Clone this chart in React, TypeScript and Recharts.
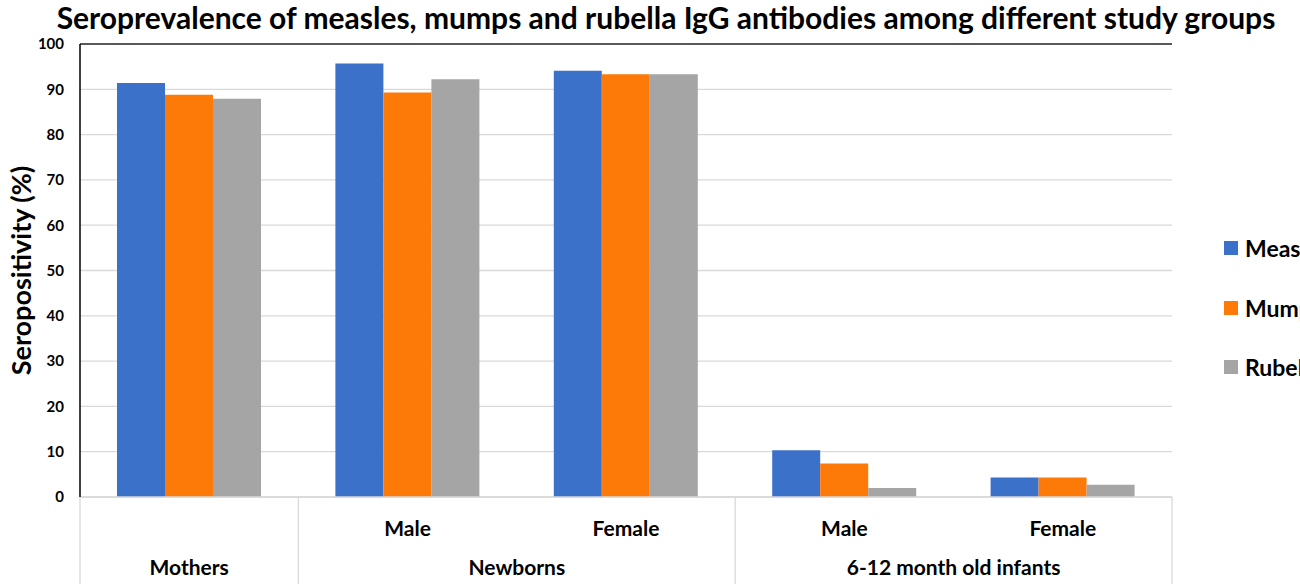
import React from 'react'
import { BarChart, Bar, XAxis, YAxis, CartesianGrid, ReferenceLine } from 'recharts'

const subgroups = ['', 'Male', 'Female', 'Male', 'Female']
const groups = ['Mothers', 'Newborns', 'Newborns', '6-12 month old infants', '6-12 month old infants']
const measles = [91.4, 95.7, 94.1, 10.3, 4.3]
const mumps = [88.8, 89.3, 93.3, 7.4, 4.3]
const rubella = [87.9, 92.2, 93.3, 2.0, 2.7]
const yTicks = [0, 10, 20, 30, 40, 50, 60, 70, 80, 90, 100]

const seriesNames = ['Measles', 'Mumps', 'Rubella']
const seriesKeys = ['measles', 'mumps', 'rubella']
const seriesColors = ['#3B71C9', '#FE7A08', '#A5A5A5']

const W = 1300
const H = 586
const PLOT_LEFT = 80
const PLOT_RIGHT = 1172
const BAND = (PLOT_RIGHT - PLOT_LEFT) / subgroups.length
const FONT = 'Lato, "Open Sans", sans-serif'

const data = subgroups.map((sub, i) => ({
  key: `c${i}`,
  sub,
  group: groups[i],
  measles: measles[i],
  mumps: mumps[i],
  rubella: rubella[i],
}))

// two-row category axis: subgroup on top, group label spanning its columns below
function GroupTick(props: any) {
  const { x, y, index } = props
  const group = groups[index]
  const starts = index === 0 || groups[index - 1] !== group
  let span = 0
  if (starts) {
    while (groups[index + span] === group) span++
  }
  const isLast = index === groups.length - 1
  return (
    <g>
      <text x={x} y={y + 39} textAnchor="middle" fontFamily={FONT} fontWeight={700} fontSize={21} fill="#000">
        {subgroups[index]}
      </text>
      {starts && (
        <>
          <line x1={x - BAND / 2} x2={x - BAND / 2} y1={y} y2={y + 87} stroke="#D9D9D9" strokeWidth={1.3} />
          <text
            x={x + ((span - 1) * BAND) / 2}
            y={y + 78}
            textAnchor="middle"
            fontFamily={FONT}
            fontWeight={700}
            fontSize={21}
            fill="#000"
          >
            {group}
          </text>
        </>
      )}
      {isLast && <line x1={x + BAND / 2} x2={x + BAND / 2} y1={y} y2={y + 87} stroke="#D9D9D9" strokeWidth={1.3} />}
    </g>
  )
}

function YLabel(props: any) {
  const vb = props.viewBox
  const cx = vb.x + 20
  const cy = vb.y + vb.height / 2
  return (
    <text
      x={cx}
      y={cy}
      transform={`rotate(-90, ${cx}, ${cy})`}
      textAnchor="middle"
      dominantBaseline="central"
      fontFamily={FONT}
      fontWeight={700}
      fontSize={27}
      fill="#000"
    >
      Seropositivity (%)
    </text>
  )
}

export default function App() {
  return (
    <div style={{ position: 'absolute', left: 0, top: 0, width: W, height: H, overflow: 'hidden', background: '#fff' }}>
      <div
        style={{
          position: 'absolute',
          left: 16,
          top: 2,
          width: W,
          height: 32,
          lineHeight: '30px',
          textAlign: 'center',
          fontFamily: FONT,
          fontWeight: 700,
          fontSize: 30,
          color: '#000',
          whiteSpace: 'nowrap',
        }}
      >
        Seroprevalence of measles, mumps and rubella IgG antibodies among different study groups
      </div>
      <div style={{ position: 'absolute', left: 0, top: 0 }}>
        <BarChart
          width={W}
          height={H}
          data={data}
          margin={{ top: 44, right: W - PLOT_RIGHT, bottom: 0, left: 0 }}
          barGap={0}
          barSize={48}
        >
          <CartesianGrid vertical={false} stroke="#D9D9D9" strokeWidth={1.3} />
          <XAxis
            dataKey="key"
            height={89}
            tickLine={false}
            tickSize={0}
            tickMargin={0}
            axisLine={{ stroke: '#D9D9D9', strokeWidth: 1.5 }}
            tick={<GroupTick />}
            interval={0}
          />
          <YAxis
            domain={[0, 100]}
            ticks={yTicks}
            width={PLOT_LEFT}
            tickLine={false}
            tickSize={0}
            tickMargin={16}
            axisLine={{ stroke: '#000', strokeWidth: 1.5 }}
            tick={{ fontFamily: FONT, fontWeight: 700, fontSize: 15, fill: '#000' }}
            label={{ content: <YLabel /> }}
          />
          <YAxis
            yAxisId="frame"
            orientation="right"
            domain={[0, 100]}
            width={0}
            tick={false}
            tickLine={false}
            axisLine={{ stroke: '#595959', strokeWidth: 1.8 }}
          />
          <ReferenceLine y={100} stroke="#595959" strokeWidth={1.8} />
          {seriesKeys.map((k, i) => (
            <Bar key={k} dataKey={k} name={seriesNames[i]} fill={seriesColors[i]} isAnimationActive={false} />
          ))}
        </BarChart>
      </div>
      {seriesNames.map((name, i) => (
        <div
          key={name}
          style={{
            position: 'absolute',
            left: 1224,
            top: 234 + i * 59.5,
            display: 'flex',
            alignItems: 'center',
            fontFamily: FONT,
            fontWeight: 700,
            fontSize: 23,
            color: '#000',
            whiteSpace: 'nowrap',
          }}
        >
          <span style={{ display: 'inline-block', width: 14, height: 14, background: seriesColors[i], marginRight: 7 }} />
          {name}
        </div>
      ))}
    </div>
  )
}
